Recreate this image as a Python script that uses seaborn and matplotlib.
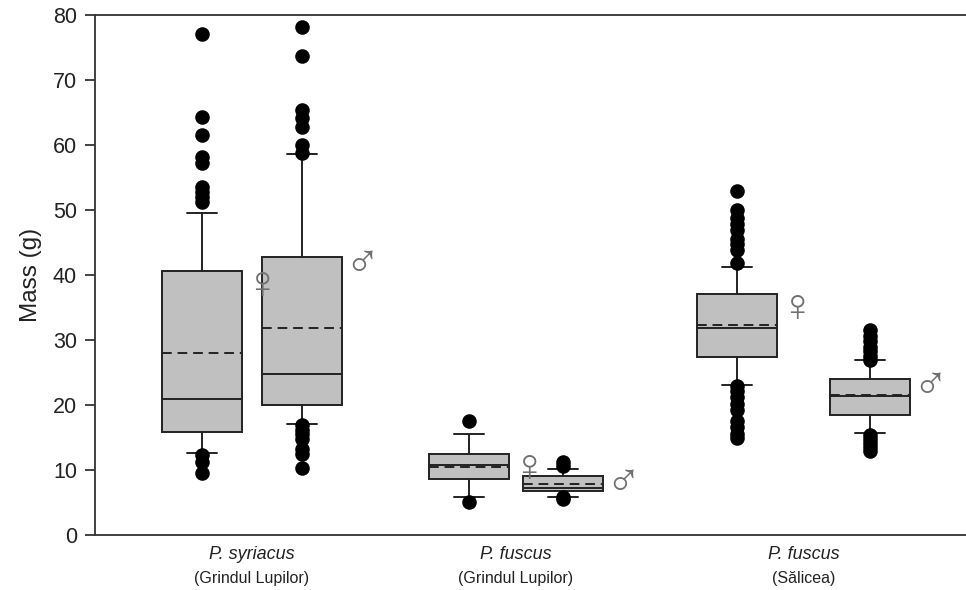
import matplotlib
matplotlib.use("Agg")
import matplotlib.pyplot as plt
import seaborn as sns
import pandas as pd
import numpy as np

# ---- data ----
species = ["P. syriacus", "P. fuscus", "P. fuscus"]
sites = ["(Grindul Lupilor)", "(Grindul Lupilor)", "(Sălicea)"]
sexes = ["♀", "♂", "♀", "♂", "♀", "♂"]
q1 = [15.8, 20.0, 8.6, 6.8, 27.4, 18.5]
medians = [21.0, 24.8, 10.8, 7.2, 31.8, 21.4]
q3 = [40.6, 42.8, 12.5, 9.1, 37.0, 24.0]
means = [28.0, 31.8, 10.5, 7.8, 32.3, 21.5]
whislo = [12.6, 17.1, 5.8, 5.8, 23.1, 15.7]
whishi = [49.5, 58.6, 15.5, 10.2, 41.2, 26.9]
fliers_f1 = [77.0, 64.3, 61.6, 58.2, 57.2, 53.6, 52.8, 52.0, 51.2, 12.3, 11.3, 9.5]
fliers_m1 = [78.2, 73.7, 65.4, 64.1, 62.8, 60.0, 58.8, 17.0, 16.2, 15.5, 14.8, 13.3, 12.4, 10.3]
fliers_f2 = [17.6, 5.1]
fliers_m2 = [11.2, 10.6, 5.9, 5.6]
fliers_f3 = [52.9, 50.0, 48.8, 47.8, 46.9, 45.5, 44.8, 43.9, 41.8,
             23.0, 22.2, 21.3, 20.1, 19.2, 17.6, 16.6, 15.6, 14.9]
fliers_m3 = [31.6, 30.6, 29.8, 29.0, 28.3, 27.6, 27.0, 15.4, 14.8, 14.1, 13.5, 12.9]
fliers = [fliers_f1, fliers_m1, fliers_f2, fliers_m2, fliers_f3, fliers_m3]

# ---- layout ----
positions = [1.07, 2.07, 3.74, 4.68, 6.42, 7.75]
box_width = 0.80

sns.set_style("ticks")
plt.rcParams["font.family"] = ["Liberation Sans", "DejaVu Sans"]

fig = plt.figure(figsize=(9.66, 5.90), dpi=100)
ax = fig.add_axes([0.0983, 0.0932, 0.9017, 0.8814])

stats = []
for i in range(6):
    stats.append(dict(q1=q1[i], med=medians[i], q3=q3[i], mean=means[i],
                      whislo=whislo[i], whishi=whishi[i], fliers=[]))

edge = "#222222"
ax.bxp(stats, positions=positions, widths=box_width, patch_artist=True,
       showmeans=True, meanline=True, showfliers=False, capwidths=0.30,
       boxprops=dict(facecolor="#c0c0c0", edgecolor=edge, linewidth=1.4),
       medianprops=dict(color=edge, linewidth=1.4),
       meanprops=dict(color=edge, linestyle=(0, (5, 3)), linewidth=1.4),
       whiskerprops=dict(color=edge, linewidth=1.4),
       capprops=dict(color=edge, linewidth=1.4))

rows = []
for i, fl in enumerate(fliers):
    for v in fl:
        rows.append({"x": positions[i], "y": v})
df = pd.DataFrame(rows)
sns.scatterplot(data=df, x="x", y="y", ax=ax, color="black", s=110,
                edgecolor="black", linewidth=0, zorder=5)

# sex symbols
for i in range(6):
    dy = -2.3 if sexes[i] == "♀" else -1.2
    ax.text(positions[i] + box_width / 2 + 0.02, q3[i] + dy, sexes[i],
            ha="left", va="center", fontsize=34, color="#707070",
            family=["Liberation Sans", "DejaVu Sans"])

ax.set_xlim(0, 8.71)
ax.set_ylim(0, 80)
ax.set_yticks(np.arange(0, 81, 10))
ax.tick_params(axis="y", labelsize=15.5, length=7, width=1.2, pad=6,
               color=edge, labelcolor="#222222")
ax.set_xticks([])
ax.set_xlabel("")
ax.set_ylabel("Mass (g)", fontsize=17.5, color="#222222", labelpad=8)

for s in ["left", "bottom", "top"]:
    ax.spines[s].set_visible(True)
    ax.spines[s].set_linewidth(1.3)
    ax.spines[s].set_color("#333333")
ax.spines["right"].set_visible(False)

# category labels
for k in range(3):
    xc = (positions[2 * k] + positions[2 * k + 1]) / 2
    ax.text(xc, -3.0, species[k], ha="center", va="center", fontsize=13,
            style="italic", color="#222222")
    ax.text(xc, -6.7, sites[k], ha="center", va="center", fontsize=11.5,
            color="#222222")

fig.savefig("out.png", dpi=100)
